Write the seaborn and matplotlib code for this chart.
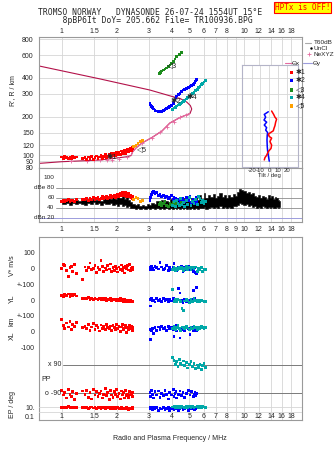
import pandas as pd
import seaborn as sns
import matplotlib.pyplot as plt
from matplotlib.lines import Line2D
from matplotlib.patches import Rectangle
from matplotlib.ticker import NullLocator
from matplotlib.transforms import blended_transform_factory

# --- ticks / labels ---
freq_ticks = [1, 1.5, 2, 3, 4, 5, 6, 7, 8, 9, 10, 12, 14, 16, 18]
freq_labels = ['1', '1.5', '2', '3', '4', '5', '6', '7', '8', '', '10', '12', '14', '16', '18']
freq_labels_db = ['1', '1.5', '2', '3', '4', '5', '6', '7', '8', '9', '10', '12', '14', '16', '18']
range_ticks = [80, 90, 100, 120, 150, 200, 300, 400, 600, 800]
db_ticks = [100, 80, 60, 40, 20]
db_labels = ['100', 'dBe 80', '60', '40', 'dBn 20']
tilt_ticks = [-20, -10, 0, 10, 20]

# --- real height profile (plasma frequency vs height), with topside ---
prof_f = [0.754, 1.0, 1.62, 2.27, 2.40, 2.44, 2.55, 2.75, 3.12, 3.54, 3.91, 4.44, 5.04,
          5.15, 5.06, 4.83, 4.44, 4.02, 3.04, 1.62, 0.754]
prof_r = [86.6, 89.2, 91.9, 97.5, 99.6, 106, 114, 124.6, 137.6, 154.6, 178.4, 196.9, 211.5,
          229.3, 244, 260, 277, 287, 322, 393, 495]
nexyz_f = [1.12, 1.38, 1.50, 1.63, 1.78, 1.89, 2.06, 2.28, 2.75, 3.12, 3.45, 3.75, 4.10, 4.44, 4.80]
nexyz_r = [89.6, 91.0, 91.5, 91.9, 92.8, 92.8, 94.3, 97.5, 124.6, 137.6, 151, 166, 183, 197, 205]

# --- echo trace 1 (red) ---
red_f = [1.00, 1.02, 1.04, 1.06, 1.09, 1.11, 1.13, 1.15, 1.17, 1.20,
         1.30, 1.34, 1.37, 1.40, 1.43, 1.46, 1.49, 1.52, 1.55, 1.58,
         1.61, 1.64, 1.67, 1.70, 1.73, 1.76, 1.79, 1.82, 1.85, 1.88,
         1.91, 1.94, 1.97, 2.00, 2.03, 2.06, 2.09, 2.12, 2.15, 2.18,
         2.21, 2.24, 2.27, 2.30, 2.33, 2.36, 2.39, 2.41, 2.43, 2.45]
red_range = [97, 95, 98, 96, 94, 97, 95, 99, 96, 97,
             94, 96, 93, 97, 94, 98, 93, 96, 99, 94,
             97, 100, 95, 98, 101, 96, 99, 102, 97, 103,
             99, 104, 100, 105, 101, 106, 102, 108, 103, 107,
             110, 104, 109, 112, 106, 111, 114, 108, 116, 112]
red_amp = [53, 55, 52, 54, 56, 53, 55, 54, 52, 56,
           57, 56, 58, 55, 59, 57, 60, 56, 58, 61,
           57, 59, 62, 58, 60, 63, 59, 61, 64, 60,
           62, 65, 61, 63, 66, 62, 68, 64, 70, 65,
           67, 71, 63, 66, 69, 62, 65, 60, 63, 58]
red_vstar = [-2, 25, 19, -13, -51, 4, 13, -17, 23, -30,
             -72, 10, -15, 5, 35, -8, 0, 20, -25, 8,
             -5, 52, 12, -20, 3, -10, 18, -3, 28, -18,
             6, -12, 15, 0, -22, 9, -6, 22, -14, 4,
             -28, 11, -2, 17, -9, 25, -16, 2, -7, 8]
red_yl = [30, 24, 35, 28, 38, 22, 33, 27, 36, 26,
          10, 12, 8, 15, 5, 10, 3, 12, 7, 0,
          9, 4, 11, 2, 8, -2, 6, 1, 10, -3,
          5, 0, 7, -4, 3, -1, 9, -5, 2, -8,
          4, -3, -10, 1, -6, -12, -2, -8, -5, -9]
red_xl = [75, 40, 20, 55, 30, 65, 15, 45, 35, 60,
          25, 35, 20, 45, 10, 30, 50, 15, 38, 25,
          5, 42, 22, 32, 12, 48, 28, 18, 36, 8,
          40, 26, 14, 44, 20, 34, 2, 30, 46, 16,
          24, 38, -5, 28, 12, 40, 22, 32, 10, 26]
red_pp = [-70, -100, -85, -120, -65, -95, -110, -80, -130, -90,
          -75, -95, -70, -115, -85, -125, -65, -100, -80, -110,
          -90, -75, -120, -95, -60, -105, -85, -130, -70, -100,
          -115, -80, -95, -65, -110, -90, -125, -75, -100, -85,
          -120, -70, -105, -95, -115, -80, -100, -90, -110, -85]
red_ep = [10, 12, 9, 11, 13, 10, 8, 12, 11, 9,
          10, 8, 11, 6, 9, 12, 7, 10, 5, 9,
          11, 6, 8, 10, 5, 9, 7, 11, 6, 8,
          5, 9, 4, 7, 10, 6, 4, 8, 5, 7,
          4, 6, 9, 5, 3, 7, 4, 6, 5, 8]

# --- echo trace 2 (blue) ---
blue_f = [3.04, 3.07, 3.10, 3.13, 3.17, 3.24, 3.31, 3.38, 3.45, 3.52,
          3.60, 3.68, 3.75, 3.83, 3.91, 4.00, 4.08, 4.12, 4.17, 4.22,
          4.26, 4.35, 4.44, 4.53, 4.62, 4.72, 4.83, 4.93, 5.04, 5.15,
          5.25, 5.31, 5.37, 5.43, 5.48]
blue_range = [254, 246, 239, 234, 229, 224, 221, 219, 218, 220,
              223, 227, 232, 236, 239, 245, 253, 260, 269, 279,
              289, 296, 304, 313, 322, 327, 332, 337, 342, 349,
              357, 365, 374, 382, 390]
blue_amp = [55, 60, 66, 70, 72, 68, 71, 64, 66, 62,
            65, 60, 63, 58, 61, 64, 57, 60, 55, 58,
            52, 56, 50, 54, 58, 52, 60, 55, 62, 50,
            57, 48, 54, 60, 52]
blue_vstar = [8, -5, 12, 0, -10, 15, 5, -3, 40, 10,
              -8, 2, 18, -12, 6, -4, 9, 34, -6, 3,
              -15, 7, -2, 12, -20, 4, -9, 14, -5, 0,
              -18, 6, -25, 10, -30]
blue_yl = [5, -38, 10, -5, 0, -12, 8, -3, 3, -8,
           12, -2, 6, -10, 2, -6, 9, -4, 3, -9,
           5, 75, 45, -3, -15, 5, -7, 1, -11, 4,
           60, -3, 8, -6, 81]
blue_xl = [13, -47, 5, 20, -10, 25, 8, 30, 15, 35,
           22, 28, 10, 32, 18, 26, 12, -30, 20, 38,
           5, 24, -40, 15, 28, 8, 33, 18, -20, 25,
           10, 30, 14, 22, 6]
blue_pp = [-85, -110, -70, -95, -120, -80, -100, -75, -115, -90,
           -105, -70, -95, -125, -85, -100, -65, -110, -90, -80,
           -120, -95, -75, -105, -85, -115, -90, -70, -100, -80,
           -110, -95, -85, -105, -90]
blue_ep = [12, 6, 9, 3, 10, 5, 8, 2, 7, 4,
           11, 3, 6, 9, 2, 5, 8, 3, 10, 4,
           7, 2, 6, 9, 3, 5, 8, 2, 6, 4,
           10, 3, 7, 5, 9]

# --- echo trace 4 (cyan) ---
cyan_f = [4.05, 4.12, 4.18, 4.25, 4.33, 4.40, 4.47, 4.55, 4.63, 4.72,
          4.80, 4.90, 5.00, 5.10, 5.20, 5.30, 5.42, 5.52, 5.62, 5.72,
          5.82, 5.92, 6.02, 6.12]
cyan_range = [228, 233, 237, 242, 246, 250, 254, 258, 262, 268,
              274, 281, 287, 294, 301, 309, 318, 327, 336, 345,
              354, 363, 372, 384]
cyan_amp = [45, 52, 42, 55, 48, 44, 58, 46, 50, 43,
            54, 47, 60, 45, 52, 49, 56, 47, 62, 58,
            50, 55, 48, 52]
cyan_vstar = [-5, 8, -12, 3, -8, 10, -3, 6, -15, 0,
              12, -6, 4, -10, 7, -2, 9, -18, 2, -7,
              5, -20, -4, -8]
cyan_yl = [68, -8, 2, -12, 5, 0, -10, -53, -64, -5,
           6, -3, -15, 2, -7, 8, -4, -9, -2, -12,
           1, -6, -10, -8]
cyan_xl = [20, 32, 15, 28, 38, 22, 10, 30, 25, 18,
           35, 24, 12, 28, 20, 33, 26, 16, 30, 22,
           36, 27, 19, 25]
cyan_pp = [138, 120, 95, 110, 80, 125, 100, 90, 115, 85,
           105, 70, 95, 110, 80, 100, 65, 90, 75, 95,
           60, 85, 100, 75]
cyan_ep = [12, 15, 10, 18, 11, 14, 9, 16, 12, 10,
           15, 11, 13, 9, 14, 10, 12, 16, 11, 13,
           10, 15, 12, 11]

# --- echo traces 3 (green) and 5 (orange) ---
green_f = [3.42, 3.47, 3.53, 3.60, 3.68, 3.75, 3.83, 3.92, 4.00, 4.08, 4.17, 4.26, 4.40, 4.54]
green_range = [435, 442, 453, 461, 470, 478, 489, 505, 520, 540, 562, 585, 611, 633]
green_amp = [46, 50, 44, 48, 52, 45, 42, 49, 47, 51, 44, 48, 46, 50]
orange_f = [2.48, 2.55, 2.62, 2.70, 2.76]
orange_range = [117, 120, 124, 128, 131]
orange_amp = [56, 60, 58, 52, 55]

# --- unclassified amplitude band ---
noise_f = [1.00, 1.04, 1.08, 1.12, 1.16, 1.20, 1.25, 1.30, 1.35, 1.40,
           1.45, 1.50, 1.55, 1.60, 1.65, 1.70, 1.75, 1.80, 1.86, 1.92,
           1.98, 2.04, 2.10, 2.16, 2.22, 2.28, 2.34, 2.40, 2.47, 2.54,
           2.62, 2.70, 2.78, 2.87, 2.96, 3.05, 3.15, 3.25, 3.35, 3.45,
           3.55, 3.65, 3.75, 3.85, 3.95, 4.05, 4.15, 4.25, 4.35, 4.45,
           4.55, 4.65, 4.75, 4.85, 4.95, 5.05, 5.15, 5.30, 5.45, 5.60,
           5.75, 5.90, 6.05, 6.20, 6.40, 6.60, 6.80, 7.00, 7.20, 7.40,
           7.60, 7.80, 8.00, 8.25, 8.50, 8.75, 9.00, 9.25, 9.50, 9.75,
           10.0, 10.3, 10.6, 10.9, 11.2, 11.5, 11.8, 12.1, 12.4, 12.7,
           13.0, 13.3, 13.6, 13.9, 14.2, 14.5, 14.8, 15.1, 15.4, 15.6]
noise_lo = [48, 47, 50, 46, 49, 47, 50, 48, 46, 50,
            48, 51, 47, 49, 46, 50, 48, 47, 50, 45,
            48, 44, 47, 43, 46, 42, 44, 40, 39, 38,
            40, 38, 39, 38, 39, 38, 40, 38, 39, 38,
            40, 38, 39, 38, 40, 38, 39, 38, 40, 38,
            39, 38, 40, 38, 39, 38, 40, 38, 39, 38,
            40, 39, 41, 38, 40, 42, 39, 41, 40, 43,
            40, 42, 40, 42, 40, 43, 44, 46, 50, 48,
            46, 48, 44, 46, 42, 44, 40, 42, 40, 43,
            41, 39, 42, 40, 41, 39, 40, 41, 40, 42]
noise_hi = [56, 54, 57, 53, 55, 56, 54, 57, 55, 58,
            56, 59, 55, 58, 54, 59, 57, 60, 58, 61,
            57, 62, 59, 63, 58, 61, 56, 52, 47, 45,
            47, 44, 46, 44, 47, 46, 50, 48, 53, 50,
            55, 49, 54, 51, 57, 50, 55, 48, 58, 52,
            56, 50, 59, 53, 57, 52, 60, 55, 62, 56,
            66, 58, 70, 60, 66, 62, 68, 60, 64, 70,
            62, 66, 60, 65, 62, 68, 64, 72, 78, 76,
            74, 70, 72, 68, 70, 64, 62, 66, 60, 64,
            62, 58, 66, 60, 64, 58, 62, 60, 56, 54]

# --- wave tilt inset ---
tiltx_deg = [2.8, 5.1, 6.6, 8.5, 7.4, 6.6, 5.5, 4.7, 2.1, -1.0, 0.1, 2.8, 0.9, 2.8, 2.1, -1.0, -2.9, -4.8, -5.6]
tiltx_r = [221, 208, 198, 191, 181, 170, 162, 155, 151, 146, 140, 136, 128, 120, 113, 107, 100, 96, 92]
tilty_deg = [-1.0, -5.6, -4.0, -5.9, -2.9, -5.6, -2.9, -4.0, -1.7, -2.2, -2.5, -2.2, -1.7, -1.0, 0.1]
tilty_r = [218, 208, 198, 188, 181, 172, 164, 157, 150, 144, 132, 117, 107, 100, 90]

palette = {'1': '#ff0000', '2': '#0000ff', '3': '#1e8c1e', '4': '#00a8a8', '5': '#ffa000'}
legend_marks = ['\u27311', '\u27312', '\u25c13', '\u27314', '\u25c15']
CRIMSON = '#b3124a'
PINK = '#e66aa0'
LAVENDER = '#9c9cdc'
GRID = '#d6d6d6'
FRAME = '#9a9a9a'

sns.set_style('white')
plt.rcParams['font.family'] = ['Liberation Sans', 'DejaVu Sans']
plt.rcParams['font.size'] = 5

echo = pd.concat([
    pd.DataFrame({'trace': '1', 'freq': red_f, 'range': red_range, 'amp': red_amp}),
    pd.DataFrame({'trace': '2', 'freq': blue_f, 'range': blue_range, 'amp': blue_amp}),
    pd.DataFrame({'trace': '3', 'freq': green_f, 'range': green_range, 'amp': green_amp}),
    pd.DataFrame({'trace': '4', 'freq': cyan_f, 'range': cyan_range, 'amp': cyan_amp}),
    pd.DataFrame({'trace': '5', 'freq': orange_f, 'range': orange_range, 'amp': orange_amp}),
], ignore_index=True)
pol = pd.concat([
    pd.DataFrame({'trace': '1', 'freq': red_f, 'vstar': red_vstar, 'yl': red_yl, 'xl': red_xl,
                  'pp': red_pp, 'ep': red_ep}),
    pd.DataFrame({'trace': '2', 'freq': blue_f, 'vstar': blue_vstar, 'yl': blue_yl, 'xl': blue_xl,
                  'pp': blue_pp, 'ep': blue_ep}),
    pd.DataFrame({'trace': '4', 'freq': cyan_f, 'vstar': cyan_vstar, 'yl': cyan_yl, 'xl': cyan_xl,
                  'pp': cyan_pp, 'ep': cyan_ep}),
], ignore_index=True)

W, H = 335, 451
fig = plt.figure(figsize=(W / 100, H / 100), dpi=100)
fig.patch.set_facecolor('white')


def box(left, top, right, bottom):
    return [left / W, 1 - bottom / H, (right - left) / W, (bottom - top) / H]


def fx(x):
    return x / W


def fy(y):
    return 1 - y / H


def style_axes(ax, labels=None):
    ax.set_xscale('log')
    ax.set_xlim(0.754, 20.6)
    ax.set_xticks(freq_ticks)
    ax.set_xticklabels(labels if labels else [''] * len(freq_ticks))
    ax.xaxis.set_minor_locator(NullLocator())
    ax.set_xlabel('')
    ax.set_ylabel('')
    for s in ax.spines.values():
        s.set_color(FRAME)
        s.set_linewidth(0.8)


def scatter(data, x, y, ax):
    sns.scatterplot(data=data, x=x, y=y, hue='trace', palette=palette, marker='s', s=4,
                    linewidth=0, legend=False, ax=ax, zorder=3)


# --- 1. range panel ---
ax_main = fig.add_axes(box(39.3, 36.5, 301.7, 168))
ax_main.set_yscale('log')
style_axes(ax_main, freq_labels)
ax_main.set_ylim(79.7, 840)
ax_main.set_yticks(range_ticks)
ax_main.set_yticklabels([str(v) for v in range_ticks])
ax_main.yaxis.set_minor_locator(NullLocator())
ax_main.tick_params(axis='x', top=True, labeltop=True, bottom=False, labelbottom=False, length=0, pad=0.8)
ax_main.tick_params(axis='y', length=0, pad=4)
ax_main.grid(True, color=GRID, lw=0.6)
ax_main.set_axisbelow(True)
ax_main.plot(prof_f, prof_r, color=CRIMSON, lw=0.8, zorder=2)
ax_main.plot(prof_f[4:13], prof_r[4:13], color=PINK, lw=0.8, zorder=2)
ax_main.plot(nexyz_f, nexyz_r, ls='none', marker='+', ms=3, mew=0.6, color=PINK, zorder=2)
scatter(echo, 'freq', 'range', ax_main)
ax_main.set_xlabel('')
ax_main.set_ylabel('')
for txt, f, r in zip(legend_marks, [1.88, 4.22, 4.0, 5.15, 2.74], [96, 264, 489, 281, 108.6]):
    ax_main.text(f, r, txt, fontsize=5.5, ha='center', va='center', zorder=4)

# --- 2. amplitude panel ---
ax_db = fig.add_axes(box(39.3, 168, 301.7, 222.3))
style_axes(ax_db, freq_labels_db)
ax_db.set_ylim(10.8, 119.4)
ax_db.set_yticks([])
ax_db.tick_params(axis='x', length=0, pad=2.6)
ax_db.grid(True, axis='x', color=GRID, lw=0.6)
ax_db.set_axisbelow(True)
for v in [80, 60, 40]:
    ax_db.axhline(v, xmin=0.065, color='#8c8c8c', lw=0.6, zorder=1)
ax_db.axhline(20, color=LAVENDER, lw=0.7, zorder=1)
tr_db = blended_transform_factory(ax_db.transAxes, ax_db.transData)
for v, lab in zip(db_ticks, db_labels):
    ax_db.text(0.058, v, lab, transform=tr_db, ha='right', va='center', fontsize=4.6, zorder=5)
ax_db.fill_between(noise_f, noise_lo, noise_hi, step='mid', color='black', lw=0.4, zorder=2)
scatter(echo, 'freq', 'amp', ax_db)
ax_db.set_xlabel('')
ax_db.set_ylabel('')

# --- 3. tilt inset ---
ax_in = fig.add_axes(box(241.7, 65, 297.7, 166.7))
ax_in.set_yscale('log')
ax_in.set_xlim(-31.4, 32.6)
ax_in.set_ylim(81.5, 504)
ax_in.set_xticks(tilt_ticks)
ax_in.set_xticklabels([str(v) for v in tilt_ticks])
ax_in.set_yticks(range_ticks[1:8])
ax_in.set_yticklabels([])
ax_in.yaxis.set_minor_locator(NullLocator())
ax_in.tick_params(length=0, labelsize=4.3, pad=0.6)
ax_in.grid(True, color=GRID, lw=0.6)
ax_in.set_facecolor('white')
for s in ax_in.spines.values():
    s.set_color('#b4b4c8')
    s.set_linewidth(0.8)
sns.lineplot(x=tilty_deg, y=tilty_r, sort=False, estimator=None, color='#0000ff', lw=1.1, ax=ax_in)
sns.lineplot(x=tiltx_deg, y=tiltx_r, sort=False, estimator=None, color='#ff0000', lw=1.1, ax=ax_in)
ax_in.set_xlabel('Tilt / deg', fontsize=4.3, labelpad=0)

# --- 4. polarisation panel ---
TOP, BOT, PX = 237.3, 419.5, 0.158
ax_bot = fig.add_axes(box(39.3, TOP, 301.7, BOT))
style_axes(ax_bot, freq_labels)
ax_bot.set_yticks([])
ax_bot.tick_params(axis='x', length=0, pad=-4.4)
ax_bot.grid(True, axis='x', color=GRID, lw=0.6)
ax_bot.set_facecolor('white')


def band(zero_px, col, ticks, labels):
    ax = fig.add_axes(box(39.3, TOP, 301.7, BOT))
    style_axes(ax)
    ax.set_xticks([])
    ax.set_facecolor('none')
    ax.set_ylim(-(BOT - zero_px) / PX, (zero_px - TOP) / PX)
    for s in ax.spines.values():
        s.set_visible(False)
    ax.set_yticks(ticks)
    ax.set_yticklabels(labels)
    ax.tick_params(axis='y', length=0, pad=3.2)
    scatter(pol, 'freq', col, ax)
    ax.set_xlabel('')
    ax.set_ylabel('')
    return ax


band(268.5, 'vstar', [100, 0, -100], ['100', '0', '+-100'])
band(300.1, 'yl', [0, -100], ['0', '+-100'])
band(331.7, 'xl', [0, -100], ['0', '-100'])
ax_pp = band(379.15, 'pp', [], [])
ax_pp.axhline(90, xmin=0.09, color='#7a7a7a', lw=0.7, zorder=1)
ax_pp.axhline(-90, xmin=0.09, color='#7a7a7a', lw=0.7, zorder=1)
tr = blended_transform_factory(ax_pp.transAxes, ax_pp.transData)
ax_pp.text(0.085, 90, 'x 90', transform=tr, ha='right', va='center')
ax_pp.text(0.085, -90, 'o -90', transform=tr, ha='right', va='center')
ax_pp.text(0.027, -5, 'PP', transform=tr, ha='center', va='center')

ax_ep = fig.add_axes(box(39.3, 398, 301.7, BOT))
style_axes(ax_ep)
ax_ep.set_xticks([])
ax_ep.set_facecolor('none')
ax_ep.set_yscale('log')
ax_ep.set_ylim(0.0169, 1300)
for s in ax_ep.spines.values():
    s.set_visible(False)
ax_ep.set_yticks([10, 0.1])
ax_ep.set_yticklabels(['10.', '0.1'])
ax_ep.yaxis.set_minor_locator(NullLocator())
ax_ep.tick_params(axis='y', length=0, pad=3.2)
ax_ep.axhline(10, color=GRID, lw=0.6)
ax_ep.axhline(1, color=GRID, lw=0.6)
scatter(pol, 'freq', 'ep', ax_ep)
ax_ep.set_xlabel('')
ax_ep.set_ylabel('')

# --- text around the panels ---
mono = 'DejaVu Sans Mono'
fig.text(fx(150), fy(16.3),
         'TROMSO NORWAY   DYNASONDE 26-07-24 1554UT 15\u00b0E\n'
         '   8pBP6It DoY= 205.662 File= TR100936.BPG',
         family=mono, fontsize=5.8, ha='center', va='center', multialignment='center',
         linespacing=0.9)
fig.text(fx(302.5), fy(7.2), 'HPTx is OFF!', family=mono, fontsize=5.5, color='#ff0000',
         ha='center', va='center',
         bbox=dict(facecolor='#ffff00', edgecolor='#ff0000', boxstyle='square,pad=0.15', lw=0.8))

fig.text(fx(12.5), fy(91), "R', R / km", rotation=90, ha='center', va='center')
fig.text(fx(12.5), fy(266), 'V* m/s', rotation=90, ha='center', va='center')
fig.text(fx(12.5), fy(299), 'YL', rotation=90, ha='center', va='center')
fig.text(fx(12.5), fy(321), 'km', rotation=90, ha='center', va='center')
fig.text(fx(12.5), fy(336), 'XL', rotation=90, ha='center', va='center')
fig.text(fx(13), fy(404), 'EP / deg', rotation=90, ha='center', va='center')
fig.text(fx(170), fy(438), 'Radio and Plasma Frequency / MHz', ha='center', va='center')

# legend on the right
LEG = 4.6
fig.add_artist(Line2D([fx(305), fx(310.5)], [fy(42.7), fy(42.7)], color='#aaaaaa', lw=0.8))
fig.text(fx(314), fy(42.7), 'T60dB', va='center', fontsize=LEG)
fig.add_artist(Line2D([fx(310.5)], [fy(48.3)], marker='.', ms=1.5, color='black', ls='none'))
fig.text(fx(314), fy(48.3), 'UnCl', va='center', fontsize=LEG)
fig.add_artist(Line2D([fx(309)], [fy(54.3)], marker='+', ms=3, mew=0.6, color=PINK, ls='none'))
fig.text(fx(313), fy(54.3), 'NeXYZ', va='center', fontsize=LEG)
fig.add_artist(Line2D([fx(285), fx(291.5)], [fy(63.3), fy(63.3)], color=PINK, lw=0.8))
fig.text(fx(292), fy(63.3), '\u0398x', va='center', fontsize=LEG)
fig.add_artist(Line2D([fx(302.5), fx(311.5)], [fy(63.3), fy(63.3)], color=LAVENDER, lw=0.8))
fig.text(fx(313), fy(63.3), '\u0398y', va='center', fontsize=LEG)
for (key, col), txt, yy in zip(palette.items(), legend_marks, [72.7, 80.7, 90, 97.7, 106]):
    fig.add_artist(Rectangle((fx(290), fy(yy + 1.7)), 3.4 / W, 3.4 / H,
                             transform=fig.transFigure, color=col, lw=0))
    fig.text(fx(296), fy(yy), txt, va='center', fontsize=5)

fig.savefig('out.png', dpi=100)
